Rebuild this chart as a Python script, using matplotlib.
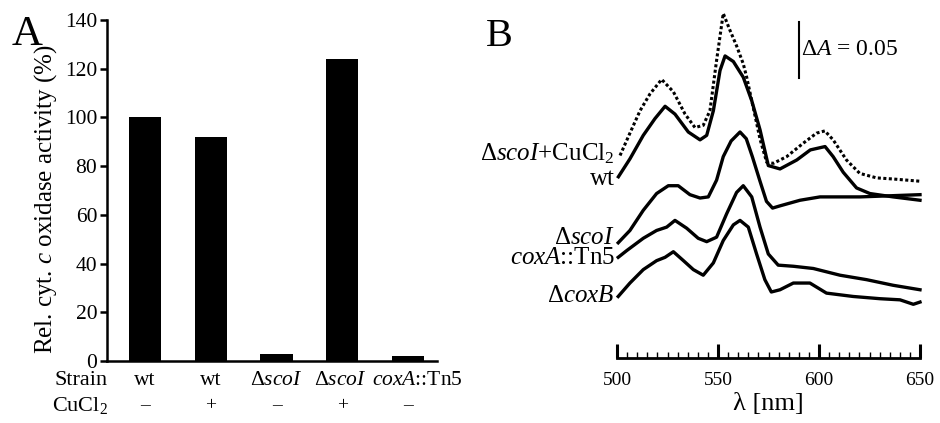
import numpy as np
import matplotlib.pyplot as plt
from matplotlib.ticker import MultipleLocator
from matplotlib.transforms import blended_transform_factory

plt.rcParams['font.family'] = ['Liberation Serif', 'DejaVu Serif']
plt.rcParams['mathtext.fontset'] = 'custom'
plt.rcParams['mathtext.rm'] = 'Liberation Serif'
plt.rcParams['mathtext.it'] = 'Liberation Serif:italic'

# Panel A: relative cytochrome c oxidase activity
strains = ['wt', 'wt', r'$\Delta\mathit{scoI}$', r'$\Delta\mathit{scoI}$', r'$\mathit{coxA}$::Tn$5$']
cucl2 = ['\u2013', '+', '\u2013', '+', '\u2013']
activity = [100, 92, 3, 124, 2]

# Panel B: difference spectra (absorbance in mA, offset per strain)
wl_scoI_cu = [501.5, 506.4, 511.4, 516.3, 522.1, 527.9, 533.7, 538.6, 542.7, 546.0, 549.3, 552.6,
              555.9, 559.2, 562.5, 564.2, 570.9, 574.1, 577.4, 584.0, 592.2, 598.8, 602.9, 607.0,
              613.6, 620.2, 628.5, 636.7, 643.4, 650.0]
abs_scoI_cu = [181, 201, 221, 236, 249, 238, 218, 206, 208, 221, 266, 308,
               293, 279, 263, 251, 195, 175, 174, 180, 192, 201, 203, 195,
               177, 165, 161, 160, 159, 158]

wl_wt = [500.7, 506.4, 513.0, 518.8, 523.8, 528.7, 535.3, 541.1, 544.4, 547.7, 551.0, 553.5,
         557.6, 562.5, 566.7, 570.8, 574.9, 580.7, 589.0, 595.7, 603.0, 607.0, 612.0, 618.6,
         625.2, 636.7, 650.0]
abs_wt = [162, 178, 199, 214, 225, 218, 202, 195, 199, 221, 257, 270,
          265, 251, 230, 204, 172, 169, 177, 186, 189, 180, 166, 152,
          147, 144, 141]

wl_scoI = [500.6, 506.4, 513.0, 519.6, 525.4, 530.3, 536.1, 541.1, 545.2, 549.3, 552.6, 556.5,
           560.9, 564.0, 567.0, 570.8, 574.0, 577.0, 580.7, 590.6, 600.5, 620.3, 650.0]
abs_scoI = [103, 114, 132, 147, 154, 154, 146, 143, 144, 159, 180, 194,
            202, 196, 180, 158, 140, 134, 136, 141, 144, 144, 146]

wl_coxA = [500.6, 504.8, 513.0, 519.6, 524.6, 528.7, 534.5, 540.2, 544.4, 549.3, 554.3, 559.2,
           562.5, 566.7, 570.8, 574.9, 579.8, 587.3, 597.2, 610.4, 623.6, 636.7, 650.0]
abs_coxA = [90, 96, 107, 114, 117, 123, 116, 107, 104, 108, 129, 148,
            154, 144, 117, 93, 83, 82, 80, 74, 70, 65, 61]

wl_coxB = [500.6, 506.4, 513.0, 519.6, 523.8, 527.9, 532.9, 537.8, 542.7, 547.7, 552.6, 557.6,
           560.9, 565.0, 569.1, 573.2, 576.4, 580.7, 587.3, 595.5, 603.7, 616.9, 630.2, 640.1,
           646.7, 650.0]
abs_coxB = [55, 67, 79, 87, 90, 95, 87, 79, 74, 85, 105, 119,
            123, 117, 93, 70, 59, 61, 67, 67, 58, 55, 53, 52,
            48, 50]

spectra = [
    (wl_scoI_cu, abs_scoI_cu, r'$\Delta\mathit{scoI}$+CuCl$_2$', ':'),
    (wl_wt, abs_wt, 'wt', '-'),
    (wl_scoI, abs_scoI, r'$\Delta\mathit{scoI}$', '-'),
    (wl_coxA, abs_coxA, r'$\mathit{coxA}$::Tn$5$', '-'),
    (wl_coxB, abs_coxB, r'$\Delta\mathit{coxB}$', '-'),
]
label_y = [183, 160, 107, 89, 55]

fig = plt.figure(figsize=(9.4, 4.23), dpi=100)

# ---- A ----
axA = fig.add_axes([107 / 940, 62 / 423, 330 / 940, 341 / 423])
x = np.arange(len(activity))
axA.bar(x, activity, width=0.49, color='black')
axA.set_xlim(-0.58, 4.44)
axA.set_ylim(0, 140)
axA.set_yticks(range(0, 141, 20))
axA.set_xticks([])
for s in ['top', 'right']:
    axA.spines[s].set_visible(False)
for s in ['left', 'bottom']:
    axA.spines[s].set_linewidth(1.8)
axA.tick_params(axis='y', direction='out', length=5, width=1.8, labelsize=15.5, pad=2)

# strain names sit under the bars; the last one is nudged right to clear its neighbour
label_shift = [0, 0, 0, -0.03, 0.14]
trans = blended_transform_factory(axA.transData, axA.transAxes)
for i in x:
    axA.text(i + label_shift[i], -0.058, strains[i], transform=trans, ha='center', va='center',
             fontsize=15.5)
    axA.text(i, -0.13, cucl2[i], transform=trans, ha='center', va='center', fontsize=14)
axA.text(0.003, -0.058, 'Strain', transform=axA.transAxes, ha='right', va='center', fontsize=16)
axA.text(0.003, -0.13, 'CuCl$_2$', transform=axA.transAxes, ha='right', va='center', fontsize=16)

fig.text(46 / 940, 1 - 199 / 423, r'Rel. cyt. $\mathit{c}$ oxidase activity (%)', rotation=90,
         ha='center', va='center', fontsize=18)
fig.text(27 / 940, 1 - 35 / 423, 'A', ha='center', va='center', fontsize=31)

# ---- B ----
axB = fig.add_axes([617 / 940, 65 / 423, 303 / 940, 358 / 423])
for (wl, ab, name, ls), ly in zip(spectra, label_y):
    if ls == ':':
        axB.plot(wl, ab, color='black', lw=2.2, ls=(0, (1, 0.8)), clip_on=False)
    else:
        axB.plot(wl, ab, color='black', lw=2.4, clip_on=False, solid_joinstyle='round')
    axB.text(499, ly, name, ha='right', va='center', fontsize=18)

axB.set_xlim(500, 650)
axB.set_ylim(0, 320)
for s in ['left', 'right', 'top']:
    axB.spines[s].set_visible(False)
axB.spines['bottom'].set_linewidth(2)
axB.set_yticks([])
axB.set_xticks([500, 550, 600, 650])
axB.xaxis.set_minor_locator(MultipleLocator(5))
axB.tick_params(axis='x', which='major', direction='in', length=10, width=2.2, pad=10, labelsize=14)
axB.tick_params(axis='x', which='minor', direction='in', length=4, width=1)
axB.set_xlabel('\u03bb [nm]', fontsize=19, labelpad=3)

# scale bar
axB.plot([590, 590], [250, 300], color='black', lw=1.5)
axB.text(591.3, 276, r'$\Delta\mathit{A}$ = 0.05', ha='left', va='center', fontsize=17)

fig.text(499 / 940, 1 - 37 / 423, 'B', ha='center', va='center', fontsize=29)

fig.savefig('out.png', dpi=100)
